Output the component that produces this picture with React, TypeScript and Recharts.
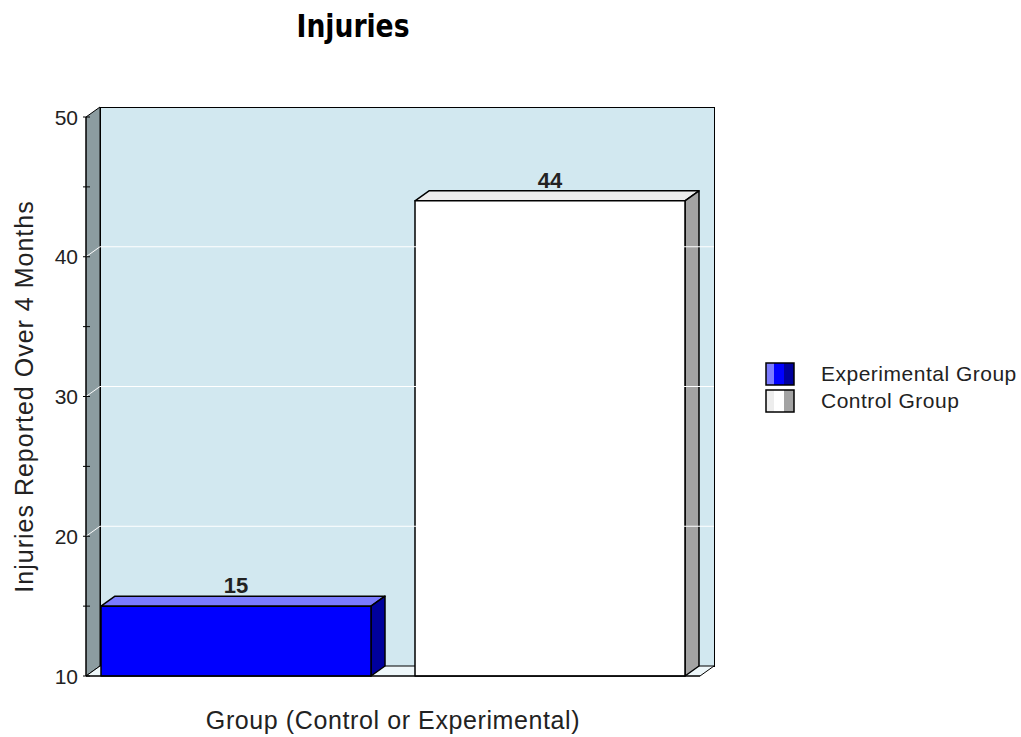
import { BarChart, Bar, XAxis, YAxis, ReferenceArea, ReferenceLine, Legend } from 'recharts'

const CATEGORIES = ['Group']
const EXPERIMENTAL = [15]
const CONTROL = [44]
const Y_TICKS = [10, 15, 20, 25, 30, 35, 40, 45, 50]
const GRID_VALUES = [20, 30, 40]

const data = CATEGORIES.map((group, i) => ({
  group,
  experimental: EXPERIMENTAL[i],
  control: CONTROL[i],
}))

// depth of the fake 3d extrusion
const DX = 14
const DY = 10
const FONT = "'Liberation Sans', Arial, sans-serif"
const TEXT = '#222'

const SERIES = [
  { key: 'experimental', name: 'Experimental Group', front: '#0000ff', top: '#7b7bff', side: '#00009c' },
  { key: 'control', name: 'Control Group', front: '#ffffff', top: '#ededed', side: '#a3a3a3' },
]

type Faces = { front: string; top: string; side: string }

function box3d(faces: Faces) {
  return (props: any) => {
    const { x, y, width: w, height: h } = props
    if (w == null || h == null) return null
    return (
      <g stroke="#000" strokeWidth={1.5} strokeLinejoin="round">
        <polygon points={`${x},${y} ${x + DX},${y - DY} ${x + w + DX},${y - DY} ${x + w},${y}`} fill={faces.top} />
        <polygon
          points={`${x + w},${y} ${x + w + DX},${y - DY} ${x + w + DX},${y + h - DY} ${x + w},${y + h}`}
          fill={faces.side}
        />
        <rect x={x} y={y} width={w} height={h} fill={faces.front} />
      </g>
    )
  }
}

// left wall, back wall and floor of the plot box
function Walls(props: any) {
  const { x, y, width: w, height: h } = props
  const b = y + h
  return (
    <g stroke="#000" strokeWidth={1}>
      <polygon points={`${x},${b} ${x},${y} ${x + DX},${y - DY} ${x + DX},${b - DY}`} fill="#8c9ca0" />
      <rect
        x={x + DX + 0.5}
        y={y - DY + 0.5}
        width={w}
        height={h}
        fill="#d2e8f0"
        shapeRendering="crispEdges"
      />
      <polygon points={`${x},${b} ${x + w},${b} ${x + w + DX},${b - DY} ${x + DX},${b - DY}`} fill="#eef7fa" />
    </g>
  )
}

function gridShape(p: any) {
  const { x1, y1, x2 } = p
  return (
    <polyline
      points={`${x1},${y1} ${x1 + DX},${y1 - DY} ${x2 + DX},${y1 - DY}`}
      fill="none"
      stroke="#ffffff"
      strokeWidth={1}
    />
  )
}

function YTick(props: any) {
  const { x, y, payload } = props
  const major = payload.value % 10 === 0
  return (
    <g>
      <line x1={x + 5} x2={x + 12} y1={y} y2={y} stroke="#000" />
      {major && (
        <text x={x} y={y} dy="0.36em" textAnchor="end" fontSize={21} fill={TEXT} fontFamily={FONT}>
          {payload.value}
        </text>
      )}
    </g>
  )
}

function LegendContent() {
  return (
    <div style={{ fontFamily: FONT, fontSize: 21, color: TEXT, letterSpacing: 0.5 }}>
      {SERIES.map((s) => (
        <div key={s.key} style={{ display: 'flex', alignItems: 'center', height: 27 }}>
          <svg width={30} height={24} style={{ display: 'block' }}>
            <rect x={1} y={1} width={8} height={22} fill={s.top} />
            <rect x={9} y={1} width={10} height={22} fill={s.front} />
            <rect x={19} y={1} width={10} height={22} fill={s.side} />
            <rect x={1} y={1} width={28} height={22} fill="none" stroke="#000" strokeWidth={1.5} />
          </svg>
          <span style={{ marginLeft: 26, lineHeight: '27px', whiteSpace: 'nowrap' }}>{s.name}</span>
        </div>
      ))}
    </div>
  )
}

export default function App() {
  return (
    <div style={{ position: 'absolute', left: 0, top: 0, width: 1021, height: 737, background: '#fff' }}>
      <svg width={1021} height={60} style={{ position: 'absolute', left: 0, top: 0, pointerEvents: 'none' }}>
        <text
          x={353}
          y={37}
          textAnchor="middle"
          fontSize={32}
          fontWeight="bold"
          fontFamily="Impact, 'DejaVu Sans Condensed', sans-serif"
          textLength={113}
          lengthAdjust="spacingAndGlyphs"
          fill="#000"
        >
          Injuries
        </text>
      </svg>
      <BarChart
        width={1021}
        height={737}
        data={data}
        margin={{ top: 117, right: 321, bottom: 0, left: 0 }}
        barCategoryGap={15}
        barGap={44}
      >
        <ReferenceArea y1={10} y2={50} ifOverflow="visible" shape={Walls} />
        {GRID_VALUES.map((v) => (
          <ReferenceLine key={v} y={v} ifOverflow="visible" shape={gridShape} />
        ))}
        {SERIES.map((s) => (
          <Bar
            key={s.key}
            dataKey={s.key}
            name={s.name}
            fill={s.front}
            shape={box3d(s)}
            isAnimationActive={false}
            label={{ position: 'top', offset: 13, fill: TEXT, fontSize: 22, fontWeight: 'bold', fontFamily: FONT }}
          />
        ))}
        <XAxis
          dataKey="group"
          tick={false}
          tickLine={false}
          axisLine={{ stroke: '#000' }}
          height={61}
          label={{
            value: 'Group (Control or Experimental)',
            position: 'insideBottom',
            offset: 8,
            style: { fontSize: 25, fill: TEXT, fontFamily: FONT, letterSpacing: 0.6 },
          }}
        />
        <YAxis
          type="number"
          domain={[10, 50]}
          ticks={Y_TICKS}
          interval={0}
          width={86}
          tickSize={0}
          tickMargin={8}
          tickLine={false}
          tick={<YTick />}
          axisLine={{ stroke: '#000' }}
          label={{
            value: 'Injuries Reported Over 4 Months',
            angle: -90,
            position: 'insideLeft',
            offset: 24,
            style: { textAnchor: 'middle', fontSize: 25, fill: TEXT, fontFamily: FONT, letterSpacing: 1 },
          }}
        />
        <Legend
          layout="vertical"
          align="center"
          verticalAlign="middle"
          wrapperStyle={{ left: 765, top: 360, width: 256 }}
          content={<LegendContent />}
        />
      </BarChart>
    </div>
  )
}
